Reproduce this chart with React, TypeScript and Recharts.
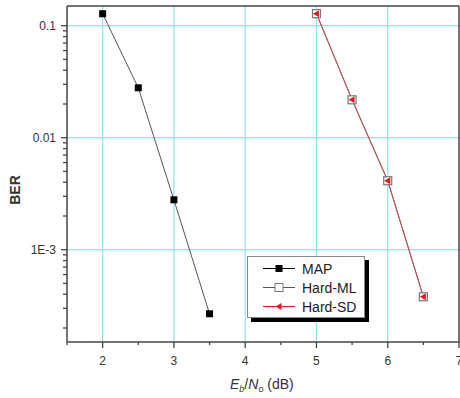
import { LineChart, Line, XAxis, YAxis, ReferenceLine } from "recharts"

const mapEbNo = [2, 2.5, 3, 3.5]
const mapBer = [0.128, 0.0279, 0.00279, 0.000268]
const hardEbNo = [5, 5.5, 6, 6.5]
const hardMlBer = [0.128, 0.0218, 0.00413, 0.00038]
const hardSdBer = [0.128, 0.0218, 0.00413, 0.00038]

const xMajorTicks = [2, 3, 4, 5, 6, 7]
const xMinorTicks = [1.5, 2.5, 3.5, 4.5, 5.5, 6.5]
const yMajorTicks = [0.001, 0.01, 0.1]
const yMajorLabels = ["1E-3", "0.01", "0.1"]
const yMinorTicks = [
  0.0002, 0.0003, 0.0004, 0.0005, 0.0006, 0.0007, 0.0008, 0.0009,
  0.002, 0.003, 0.004, 0.005, 0.006, 0.007, 0.008, 0.009,
  0.02, 0.03, 0.04, 0.05, 0.06, 0.07, 0.08, 0.09,
]
const xDomain = [1.5, 7]
const yDomain = [0.00015, 0.15]

const mapData = mapEbNo.map((x, i) => ({ x, ber: mapBer[i] }))
const hardData = hardEbNo.map((x, i) => ({ x, ml: hardMlBer[i], sd: hardSdBer[i] }))

const axisColor = "#444"
const gridColor = "#8fe3ec"
const font = "Arial, 'Liberation Sans', sans-serif"

function XTick(props: any) {
  const { x, y, payload } = props
  const major = xMajorTicks.includes(payload.value)
  return (
    <g>
      <line x1={x} x2={x} y1={y} y2={y + (major ? 6 : 3)} stroke={axisColor} strokeWidth={1.3} />
      {major && (
        <text x={x} y={y + 23} textAnchor="middle" fontSize={12} fill="#333" fontFamily={font}>
          {payload.value}
        </text>
      )}
    </g>
  )
}

function YTick(props: any) {
  const { x, y, payload } = props
  const idx = yMajorTicks.indexOf(payload.value)
  const major = idx >= 0
  return (
    <g>
      <line x1={x - (major ? 6 : 4)} x2={x} y1={y} y2={y} stroke={axisColor} strokeWidth={1.3} />
      {major && (
        <text x={x - 11} y={y + 4} textAnchor="end" fontSize={12} fill="#333" fontFamily={font}>
          {yMajorLabels[idx]}
        </text>
      )}
    </g>
  )
}

function XTitle(props: any) {
  const vb = props.viewBox || { x: 67, width: 392, y: 342 }
  return (
    <text x={vb.x + vb.width / 2 - 33} y={389} fontSize={14} fill="#333" fontFamily={font}>
      <tspan fontStyle="italic">E</tspan>
      <tspan fontSize={9} dy={3} fontStyle="italic">b</tspan>
      <tspan dy={-3}>/</tspan>
      <tspan fontStyle="italic">N</tspan>
      <tspan fontSize={9} dy={3} fontStyle="italic">o</tspan>
      <tspan dy={-3}> (dB)</tspan>
    </text>
  )
}

function YTitle() {
  return (
    <text x={20} y={190} transform="rotate(-90 20 190)" textAnchor="middle" fontSize={14} fontWeight="bold" fill="#333" fontFamily={font}>
      BER
    </text>
  )
}

function blackSquare(props: any) {
  const { cx, cy, index } = props
  return <rect key={`map-${index}`} x={cx - 3.5} y={cy - 3.5} width={7} height={7} fill="#000" />
}

function whiteSquare(props: any) {
  const { cx, cy, index } = props
  return <rect key={`ml-${index}`} x={cx - 4} y={cy - 4} width={8} height={8} fill="#fff" stroke="#777" strokeWidth={1.2} />
}

function redTriangle(props: any) {
  const { cx, cy, index } = props
  return (
    <polygon
      key={`sd-${index}`}
      points={`${cx - 3.5},${cy} ${cx + 2.5},${cy - 3.5} ${cx + 2.5},${cy + 3.5}`}
      fill="#e8161b"
    />
  )
}

function LegendRow({ label, marker, color }: { label: string; marker: string; color: string }) {
  return (
    <div style={{ display: "flex", alignItems: "center", height: 19 }}>
      <svg width={40} height={19} style={{ marginLeft: 15 }}>
        <line x1={0} x2={32} y1={9.5} y2={9.5} stroke={color} strokeWidth={1} />
        {marker === "black" && <rect x={12.5} y={6} width={7} height={7} fill="#000" />}
        {marker === "white" && <rect x={12} y={5.5} width={8} height={8} fill="#fff" stroke="#777" />}
        {marker === "red" && <polygon points="12.5,9.5 18.5,6 18.5,13" fill="#e8161b" />}
      </svg>
      <span style={{ fontSize: 14, color: "#222", fontFamily: font, marginLeft: -1 }}>{label}</span>
    </div>
  )
}

export default function App() {
  return (
    <div style={{ position: "absolute", left: 0, top: 0, width: 460, height: 398, background: "#fff" }}>
      <style>{`body{margin:0}`}</style>
      <LineChart width={460} height={398} margin={{ top: 6, right: 1, bottom: 0, left: 0 }}>
        {xMajorTicks.slice(0, -1).map((v) => (
          <ReferenceLine key={`gx-${v}`} x={v} stroke={gridColor} strokeWidth={1.2} />
        ))}
        {yMajorTicks.map((v) => (
          <ReferenceLine key={`gy-${v}`} y={v} stroke={gridColor} strokeWidth={1.2} />
        ))}
        <ReferenceLine y={yDomain[1]} stroke={axisColor} strokeWidth={1.5} />
        <ReferenceLine x={xDomain[1]} stroke={axisColor} strokeWidth={1.5} />
        <XAxis
          dataKey="x"
          type="number"
          domain={xDomain}
          allowDataOverflow
          ticks={[...xMinorTicks, ...xMajorTicks].sort((a, b) => a - b)}
          interval={0}
          tickLine={false}
          tickSize={0}
          tickMargin={0}
          tick={<XTick />}
          height={56}
          axisLine={{ stroke: axisColor, strokeWidth: 1.5 }}
          label={{ content: <XTitle /> }}
        />
        <YAxis
          type="number"
          scale="log"
          domain={yDomain}
          allowDataOverflow
          ticks={[...yMinorTicks, ...yMajorTicks].sort((a, b) => a - b)}
          interval={0}
          tickLine={false}
          tickSize={0}
          tickMargin={0}
          tick={<YTick />}
          width={67}
          axisLine={{ stroke: axisColor, strokeWidth: 1.5 }}
          label={{ content: <YTitle /> }}
        />
        <Line data={mapData} dataKey="ber" stroke="#555" strokeWidth={1} dot={blackSquare} isAnimationActive={false} />
        <Line data={hardData} dataKey="ml" stroke="#555" strokeWidth={1} dot={whiteSquare} isAnimationActive={false} />
        <Line data={hardData} dataKey="sd" stroke="#c85050" strokeWidth={1} dot={redTriangle} isAnimationActive={false} />
      </LineChart>
      <div
        style={{
          position: "absolute",
          left: 247,
          top: 256,
          width: 116,
          height: 58,
          paddingTop: 2,
          border: "1px solid #888",
          background: "#fff",
          boxShadow: "4px 4px 0 #000",
        }}
      >
        <LegendRow label="MAP" marker="black" color="#000" />
        <LegendRow label="Hard-ML" marker="white" color="#555" />
        <LegendRow label="Hard-SD" marker="red" color="#e8161b" />
      </div>
    </div>
  )
}
